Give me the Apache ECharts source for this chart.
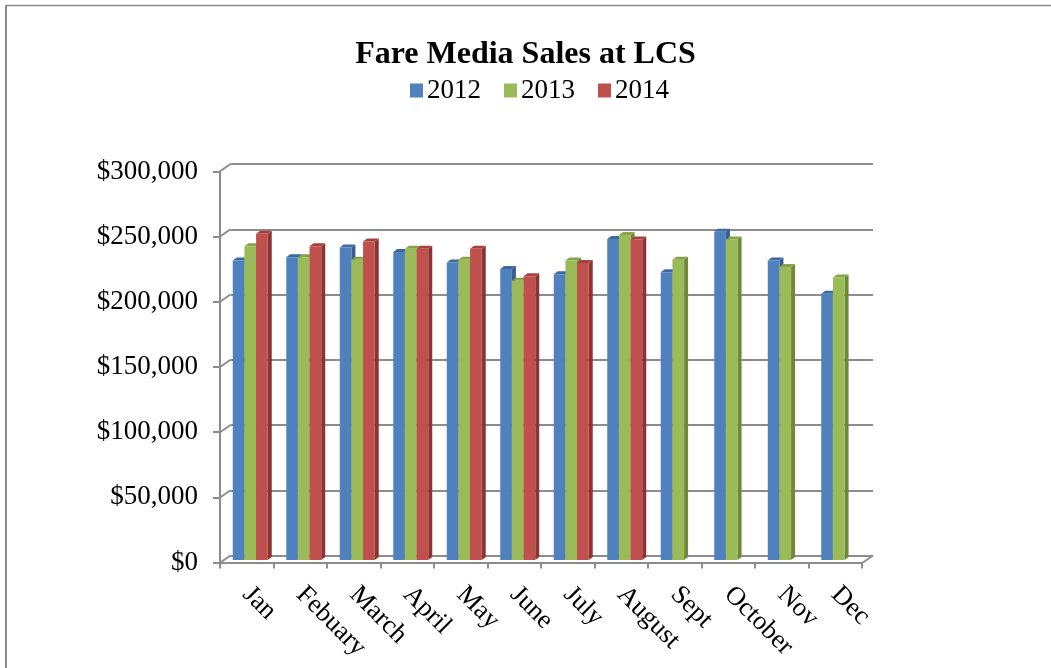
<!DOCTYPE html>
<html>
<head>
<meta charset="utf-8">
<title>Fare Media Sales at LCS</title>
<script src="https://cdn.jsdelivr.net/npm/echarts@6/dist/echarts.min.js"></script>
<style>
  html, body { margin: 0; padding: 0; background: #fff; }
  #chart { width: 1051px; height: 668px; }
</style>
</head>
<body>
<div id="chart"></div>
<script>
// Monthly fare media sales, by year
const months = ['Jan', 'Febuary', 'March', 'April', 'May', 'June', 'July', 'August', 'Sept', 'October', 'Nov', 'Dec'];
const years = ['2012', '2013', '2014'];
const sales2012 = [229500, 232000, 239500, 236000, 228000, 223000, 219000, 246000, 220500, 251500, 229500, 204000];
const sales2013 = [240500, 232000, 230000, 238500, 230000, 214000, 229500, 249000, 230000, 245500, 224500, 216500];
const sales2014 = [250000, 240500, 244000, 238500, 238500, 217500, 227500, 245500, null, null, null, null];
const yTicks = [0, 50000, 100000, 150000, 200000, 250000, 300000];

const FONT = "'Liberation Serif', 'Times New Roman', serif";
const GRAY = '#8c8c8c';
const faceColors = [
  { front: '#4f81bd', side: '#375e8f', top: '#3c6aa3' },
  { front: '#9bbb59', side: '#6e883c', top: '#86a548' },
  { front: '#c0504d', side: '#8a3533', top: '#a8413e' }
];

// 3D depth of the plot box (front plane -> back wall) and of each column
const WALL_DX = 10.5, WALL_DY = 7.2;
const COL_DX = 4, COL_DY = 3;

const chart = echarts.init(document.getElementById('chart'));

function columnRenderer(seriesIdx) {
  const c = faceColors[seriesIdx];
  return function (params, api) {
    const v = api.value(1);
    if (v == null || isNaN(v)) return;
    const top = api.coord([api.value(0), v]);
    const base = api.coord([api.value(0), 0]);
    const catW = api.size([1, 0])[0];
    const w = catW * 0.218;
    const x = top[0] + (seriesIdx - 1.5) * w;
    const yT = top[1], yB = base[1];
    return {
      type: 'group',
      children: [
        { type: 'polygon', shape: { points: [[x + w, yT], [x + w + COL_DX, yT - COL_DY], [x + w + COL_DX, yB - COL_DY], [x + w, yB]] },
          style: { fill: c.side } },
        { type: 'polygon', shape: { points: [[x, yT], [x + COL_DX, yT - COL_DY], [x + w + COL_DX, yT - COL_DY], [x + w, yT]] },
          style: { fill: c.top } },
        { type: 'rect', shape: { x: x, y: yT, width: w, height: yB - yT }, style: { fill: c.front } }
      ]
    };
  };
}

// Slanted edges joining the front axis to the back wall (left wall and floor)
function wallEdgeRenderer(params, api) {
  const p = api.coord([api.value(0), api.value(1)]);
  return {
    type: 'line',
    shape: { x1: p[0] - WALL_DX, y1: p[1] + WALL_DY, x2: p[0], y2: p[1] },
    style: { stroke: GRAY, lineWidth: 2 }
  };
}

const fmtMoney = v => '$' + Number(v).toLocaleString('en-US');

const option = {
  backgroundColor: '#fff',
  animation: false,
  title: {
    text: 'Fare Media Sales at LCS',
    left: 'center',
    top: 34,
    textStyle: { fontFamily: FONT, fontWeight: 'bold', fontSize: 32, color: '#000' }
  },
  legend: {
    left: 405,
    top: 72,
    icon: 'rect',
    itemWidth: 13,
    itemHeight: 14,
    itemGap: 23,
    data: years,
    textStyle: { fontFamily: FONT, fontSize: 27, color: '#000', padding: [0, 0, 0, -1] }
  },
  graphic: [
    { type: 'line', shape: { x1: 6, y1: 5.5, x2: 1051, y2: 5.5 }, style: { stroke: GRAY, lineWidth: 1.5 } },
    { type: 'line', shape: { x1: 6, y1: 5, x2: 6, y2: 668 }, style: { stroke: GRAY, lineWidth: 2 } }
  ],
  grid: [
    // front plane: axis line, ticks and labels
    { left: 220, right: 1051 - 862, top: 171.5, bottom: 668 - 562.5 },
    // back wall: gridlines
    { left: 230.5, right: 1051 - 873, top: 164, bottom: 668 - 555.5 },
    // column plane
    { left: 223.5, right: 1051 - 865.5, top: 168.5, bottom: 668 - 560 }
  ],
  xAxis: [
    {
      gridIndex: 0, type: 'category', data: months, boundaryGap: true,
      axisLine: { show: true, lineStyle: { color: GRAY, width: 2 } },
      axisTick: { show: true, interval: 0, length: 6, lineStyle: { color: GRAY, width: 2 } },
      axisLabel: { interval: 0, rotate: -45, margin: 28, fontFamily: FONT, fontSize: 26.5, color: '#000' }
    },
    { gridIndex: 1, type: 'value', min: 0, max: 1, show: false },
    { gridIndex: 2, type: 'category', data: months, show: false }
  ],
  yAxis: [
    {
      gridIndex: 0, type: 'value', min: 0, max: 300000, interval: 50000,
      axisLine: { show: true, lineStyle: { color: GRAY, width: 2 } },
      axisTick: { show: true, length: 7, lineStyle: { color: GRAY, width: 2 } },
      splitLine: { show: false },
      axisLabel: { margin: 22, fontFamily: FONT, fontSize: 27, color: '#000', formatter: fmtMoney }
    },
    {
      gridIndex: 1, type: 'value', min: 0, max: 300000, interval: 50000,
      axisLine: { show: false }, axisTick: { show: false }, axisLabel: { show: false },
      splitLine: { show: true, lineStyle: { color: GRAY, width: 2 } }
    },
    { gridIndex: 2, type: 'value', min: 0, max: 300000, interval: 50000, show: false }
  ],
  series: [
    {
      type: 'custom', name: 'wall', xAxisIndex: 1, yAxisIndex: 1, silent: true,
      renderItem: wallEdgeRenderer,
      data: yTicks.map(v => [0, v]).concat([[1, 0]]),
      legendHoverLink: false
    }
  ].concat([sales2012, sales2013, sales2014].map((vals, i) => ({
    type: 'custom',
    name: years[i],
    xAxisIndex: 2, yAxisIndex: 2,
    itemStyle: { color: faceColors[i].front },
    renderItem: columnRenderer(i),
    encode: { x: 0, y: 1 },
    data: vals.map((v, k) => [k, v])
  })))
};

chart.setOption(option);
</script>
</body>
</html>
